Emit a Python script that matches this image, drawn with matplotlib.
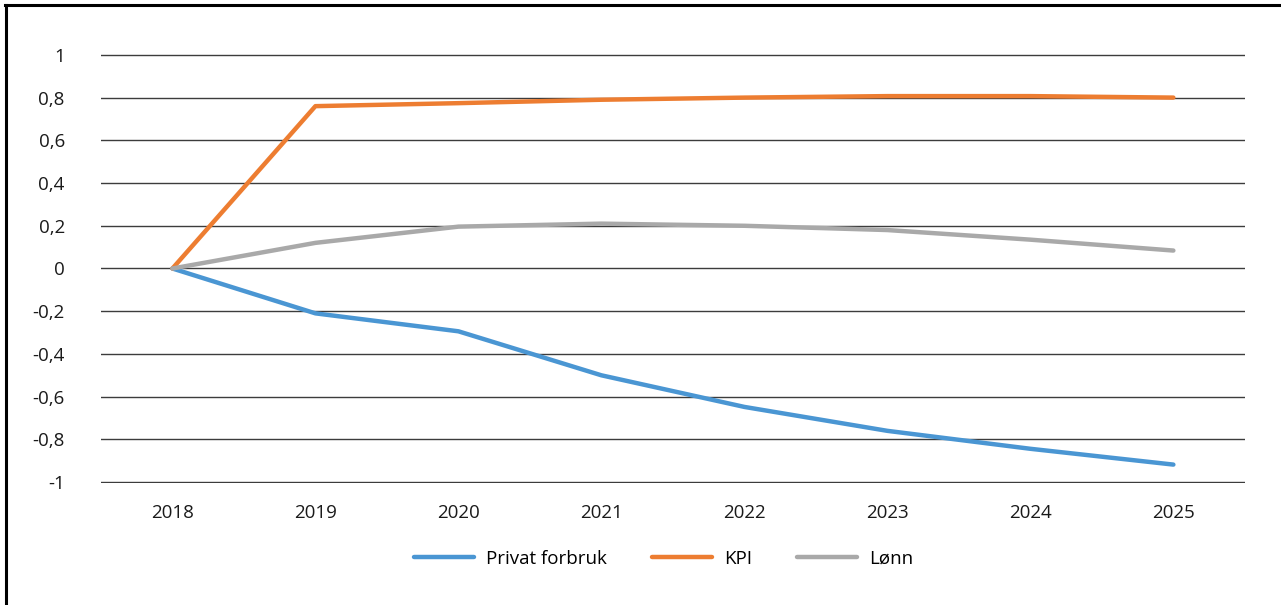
import matplotlib.pyplot as plt
from matplotlib.lines import Line2D
from matplotlib.ticker import FixedLocator, FuncFormatter

plt.rcParams['font.family'] = ['Open Sans', 'DejaVu Sans']

years = ['2018', '2019', '2020', '2021', '2022', '2023', '2024', '2025']
privat_forbruk = [0, -0.21, -0.294, -0.50, -0.648, -0.76, -0.844, -0.918]
kpi = [0, 0.76, 0.774, 0.79, 0.80, 0.807, 0.807, 0.80]
lonn = [0, 0.12, 0.196, 0.21, 0.20, 0.18, 0.135, 0.084]

series = [
    ('Privat forbruk', privat_forbruk, '#4a96d3'),
    ('KPI', kpi, '#ed7d31'),
    ('Lønn', lonn, '#a9a9a9'),
]


def fmt(v, pos):
    # norwegian decimal comma, integers without decimals
    if abs(v - round(v)) < 1e-9:
        return f'{round(v):d}'
    return f'{v:.1f}'.replace('.', ',')


fig = plt.figure(figsize=(12.81, 6.05), dpi=100)
ax = fig.add_axes([0.0788, 0.2017, 0.8930, 0.7090])

x = range(len(years))
for name, vals, color in series:
    ax.plot(x, vals, color=color, linewidth=3.2, label=name,
            solid_capstyle='round', solid_joinstyle='round', clip_on=False, zorder=3)

ax.set_xlim(-0.5, len(years) - 0.5)
ax.set_ylim(-1.004, 1.004)
ax.yaxis.set_major_locator(FixedLocator([i / 10 for i in range(-10, 11, 2)]))
ax.yaxis.set_major_formatter(FuncFormatter(fmt))
ax.set_xticks(list(x))
ax.set_xticklabels(years)
ax.grid(axis='y', color='#3c3c3c', linewidth=1)
ax.set_axisbelow(True)
for s in ax.spines.values():
    s.set_visible(False)
ax.tick_params(axis='both', length=0, labelsize=13.5, colors='#1a1a1a')
ax.tick_params(axis='y', pad=26)
ax.tick_params(axis='x', pad=15)

fig.legend(loc='center', bbox_to_anchor=(0.518, 0.076), ncol=3, frameon=False,
           fontsize=13.5, handlelength=3.2, columnspacing=2.4, handletextpad=0.65)

# frame only on top and left, as in the source
fig.add_artist(Line2D([0.005, 0.005], [0.0, 0.992], transform=fig.transFigure,
                      color='black', linewidth=2.2))
fig.add_artist(Line2D([0.004, 1.0], [0.992, 0.992], transform=fig.transFigure,
                      color='black', linewidth=2.2))

fig.savefig('out.png', dpi=100)
